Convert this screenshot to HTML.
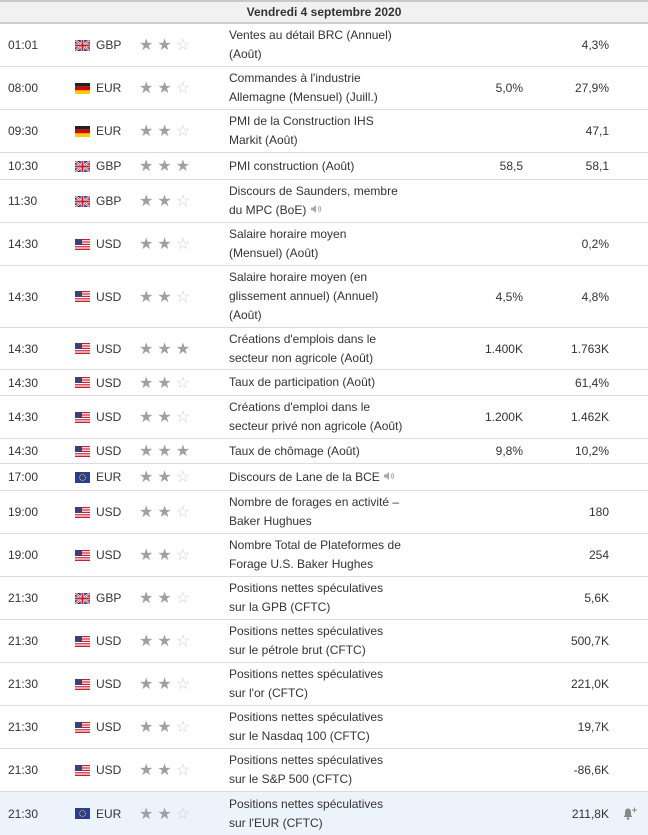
<!DOCTYPE html>
<html><head><meta charset="utf-8">
<style>
*{margin:0;padding:0;box-sizing:border-box}
body{width:648px;height:834px;overflow:hidden;background:#fff;font-family:"Liberation Sans",Arial,sans-serif;font-size:12px;color:#333}
.hdr{height:24px;border-top:2px solid #c8c8c8;background:#f1f1f1;border-bottom:2px solid #cfcfcf;text-align:center;font-weight:bold;line-height:20px;font-size:12px}
.r{position:relative;border-bottom:1px solid #dcdcdc}
.r>div{position:absolute;top:0;bottom:0;display:flex;align-items:center}
.t{left:8px}
.f{left:75px}
.c{left:96px}
.s{left:139px;font-size:16px;letter-spacing:4px;color:#a0a0a0}
.s i{font-style:normal;color:#d0d0d0}
.e{left:229px;width:172px;line-height:19px}
.fc{right:125px}
.a{right:39px}
.flag{width:15px;height:11px;display:block}
.bell{right:10px}
</style></head><body>
<div class="hdr">Vendredi 4 septembre 2020</div>
<svg width="0" height="0" style="position:absolute">
<defs>
<symbol id="gb" viewBox="0 0 15 11"><rect width="15" height="11" fill="#2a3a7a"/><path d="M0 0L15 11M15 0L0 11" stroke="#fff" stroke-width="2.2"/><path d="M0 0L15 11M15 0L0 11" stroke="#c8202f" stroke-width="0.8"/><path d="M7.5 0V11M0 5.5H15" stroke="#fff" stroke-width="3.4"/><path d="M7.5 0V11M0 5.5H15" stroke="#c8202f" stroke-width="2"/></symbol>
<symbol id="de" viewBox="0 0 15 11"><rect width="15" height="3.7" fill="#222"/><rect y="3.7" width="15" height="3.7" fill="#d00"/><rect y="7.3" width="15" height="3.7" fill="#fc0"/></symbol>
<symbol id="us" viewBox="0 0 15 11"><rect width="15" height="11" fill="#fff"/><g fill="#c8202f"><rect width="15" height="1.2"/><rect y="2.4" width="15" height="1.2"/><rect y="4.8" width="15" height="1.2"/><rect y="7.2" width="15" height="1.2"/><rect y="9.6" width="15" height="1.4"/></g><rect width="7" height="6" fill="#3b3f7a"/></symbol>
<symbol id="eu" viewBox="0 0 15 11"><rect width="15" height="11" fill="#2b3d8f"/><circle cx="7.5" cy="5.5" r="3" fill="none" stroke="#fc0" stroke-width="1" stroke-dasharray="0.8 0.8"/></symbol>
<symbol id="spk" viewBox="0 0 12 10"><path d="M1 3.5H3L6 1V9L3 6.5H1Z" fill="#aaa"/><path d="M8 3Q9.5 5 8 7M9.5 1.8Q11.8 5 9.5 8.2" stroke="#aaa" fill="none"/></symbol>
</defs></svg>

<div class="r" style="height:43px"><div class="t">01:01</div><div class="f"><svg class="flag"><use href="#gb"/></svg></div><div class="c">GBP</div><div class="s">★★<i>☆</i></div><div class="e">Ventes au détail BRC (Annuel) (Août)</div><div class="a">4,3%</div></div>
<div class="r" style="height:43px"><div class="t">08:00</div><div class="f"><svg class="flag"><use href="#de"/></svg></div><div class="c">EUR</div><div class="s">★★<i>☆</i></div><div class="e">Commandes à l'industrie Allemagne (Mensuel) (Juill.)</div><div class="fc">5,0%</div><div class="a">27,9%</div></div>
<div class="r" style="height:43px"><div class="t">09:30</div><div class="f"><svg class="flag"><use href="#de"/></svg></div><div class="c">EUR</div><div class="s">★★<i>☆</i></div><div class="e">PMI de la Construction IHS Markit (Août)</div><div class="a">47,1</div></div>
<div class="r" style="height:27px"><div class="t">10:30</div><div class="f"><svg class="flag"><use href="#gb"/></svg></div><div class="c">GBP</div><div class="s">★★★</div><div class="e">PMI construction (Août)</div><div class="fc">58,5</div><div class="a">58,1</div></div>
<div class="r" style="height:43px"><div class="t">11:30</div><div class="f"><svg class="flag"><use href="#gb"/></svg></div><div class="c">GBP</div><div class="s">★★<i>☆</i></div><div class="e"><span>Discours de Saunders, membre du MPC (BoE) <svg width="12" height="10"><use href="#spk"/></svg></span></div></div>
<div class="r" style="height:43px"><div class="t">14:30</div><div class="f"><svg class="flag"><use href="#us"/></svg></div><div class="c">USD</div><div class="s">★★<i>☆</i></div><div class="e">Salaire horaire moyen (Mensuel) (Août)</div><div class="a">0,2%</div></div>
<div class="r" style="height:62px"><div class="t">14:30</div><div class="f"><svg class="flag"><use href="#us"/></svg></div><div class="c">USD</div><div class="s">★★<i>☆</i></div><div class="e">Salaire horaire moyen (en glissement annuel) (Annuel) (Août)</div><div class="fc">4,5%</div><div class="a">4,8%</div></div>
<div class="r" style="height:42px"><div class="t">14:30</div><div class="f"><svg class="flag"><use href="#us"/></svg></div><div class="c">USD</div><div class="s">★★★</div><div class="e">Créations d'emplois dans le secteur non agricole (Août)</div><div class="fc">1.400K</div><div class="a">1.763K</div></div>
<div class="r" style="height:26px"><div class="t">14:30</div><div class="f"><svg class="flag"><use href="#us"/></svg></div><div class="c">USD</div><div class="s">★★<i>☆</i></div><div class="e">Taux de participation (Août)</div><div class="a">61,4%</div></div>
<div class="r" style="height:43px"><div class="t">14:30</div><div class="f"><svg class="flag"><use href="#us"/></svg></div><div class="c">USD</div><div class="s">★★<i>☆</i></div><div class="e" style="width:180px">Créations d'emploi dans le secteur privé non agricole (Août)</div><div class="fc">1.200K</div><div class="a">1.462K</div></div>
<div class="r" style="height:25px"><div class="t">14:30</div><div class="f"><svg class="flag"><use href="#us"/></svg></div><div class="c">USD</div><div class="s">★★★</div><div class="e">Taux de chômage (Août)</div><div class="fc">9,8%</div><div class="a">10,2%</div></div>
<div class="r" style="height:27px"><div class="t">17:00</div><div class="f"><svg class="flag"><use href="#eu"/></svg></div><div class="c">EUR</div><div class="s">★★<i>☆</i></div><div class="e"><span>Discours de Lane de la BCE <svg width="12" height="10"><use href="#spk"/></svg></span></div></div>
<div class="r" style="height:43px"><div class="t">19:00</div><div class="f"><svg class="flag"><use href="#us"/></svg></div><div class="c">USD</div><div class="s">★★<i>☆</i></div><div class="e">Nombre de forages en activité – Baker Hughues</div><div class="a">180</div></div>
<div class="r" style="height:43px"><div class="t">19:00</div><div class="f"><svg class="flag"><use href="#us"/></svg></div><div class="c">USD</div><div class="s">★★<i>☆</i></div><div class="e">Nombre Total de Plateformes de Forage U.S. Baker Hughes</div><div class="a">254</div></div>
<div class="r" style="height:43px"><div class="t">21:30</div><div class="f"><svg class="flag"><use href="#gb"/></svg></div><div class="c">GBP</div><div class="s">★★<i>☆</i></div><div class="e">Positions nettes spéculatives sur la GPB (CFTC)</div><div class="a">5,6K</div></div>
<div class="r" style="height:43px"><div class="t">21:30</div><div class="f"><svg class="flag"><use href="#us"/></svg></div><div class="c">USD</div><div class="s">★★<i>☆</i></div><div class="e">Positions nettes spéculatives sur le pétrole brut (CFTC)</div><div class="a">500,7K</div></div>
<div class="r" style="height:43px"><div class="t">21:30</div><div class="f"><svg class="flag"><use href="#us"/></svg></div><div class="c">USD</div><div class="s">★★<i>☆</i></div><div class="e">Positions nettes spéculatives sur l'or (CFTC)</div><div class="a">221,0K</div></div>
<div class="r" style="height:43px"><div class="t">21:30</div><div class="f"><svg class="flag"><use href="#us"/></svg></div><div class="c">USD</div><div class="s">★★<i>☆</i></div><div class="e">Positions nettes spéculatives sur le Nasdaq 100 (CFTC)</div><div class="a">19,7K</div></div>
<div class="r" style="height:43px"><div class="t">21:30</div><div class="f"><svg class="flag"><use href="#us"/></svg></div><div class="c">USD</div><div class="s">★★<i>☆</i></div><div class="e">Positions nettes spéculatives sur le S&amp;P 500 (CFTC)</div><div class="a">-86,6K</div></div>
<div class="r" style="height:43px;background:#edf3fa;border-bottom:none"><div class="t">21:30</div><div class="f"><svg class="flag"><use href="#eu"/></svg></div><div class="c">EUR</div><div class="s">★★<i>☆</i></div><div class="e">Positions nettes spéculatives sur l'EUR (CFTC)</div><div class="a">211,8K</div><div class="bell"><svg width="16" height="14" viewBox="0 0 16 14"><path d="M6 1.5C3.8 1.5 3 3.5 3 5.5V8L1.5 10H10.5L9 8V5.5C9 3.5 8.2 1.5 6 1.5Z" fill="#888"/><circle cx="6" cy="11.5" r="1.3" fill="#888"/><path d="M12.5 0.5V5.5M10 3H15" stroke="#888" stroke-width="1"/></svg></div></div>
</body></html>
